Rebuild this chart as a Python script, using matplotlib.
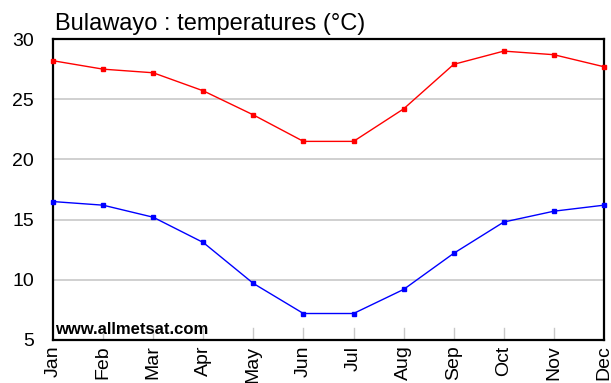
import matplotlib
matplotlib.use("Agg")
import matplotlib.pyplot as plt

plt.rcParams['font.family'] = ['Liberation Sans', 'DejaVu Sans']

months = ['Jan', 'Feb', 'Mar', 'Apr', 'May', 'Jun', 'Jul', 'Aug', 'Sep', 'Oct', 'Nov', 'Dec']
t_max = [28.2, 27.5, 27.2, 25.7, 23.7, 21.5, 21.5, 24.2, 27.9, 29.0, 28.7, 27.7]
t_min = [16.5, 16.2, 15.2, 13.1, 9.7, 7.2, 7.2, 9.2, 12.2, 14.8, 15.7, 16.2]
y_ticks = [5, 10, 15, 20, 25, 30]

fig = plt.figure(figsize=(6.11, 3.83), dpi=100)
ax = fig.add_axes([0.0867, 0.1123, 0.9018, 0.7857])

x = list(range(len(months)))
ax.plot(x, t_max, color='#ff0000', lw=1, marker='s', ms=3.5, zorder=3, clip_on=False)
ax.plot(x, t_min, color='#0000ff', lw=1, marker='s', ms=3.5, zorder=3, clip_on=False)

ax.set_xlim(0, 11)
ax.set_ylim(5, 30)
ax.set_yticks(y_ticks)
ax.set_yticklabels([str(v) for v in y_ticks], fontsize=14)
ax.set_xticks(x)
ax.set_xticklabels(months, rotation=90, fontsize=14)
ax.tick_params(axis='y', length=0, pad=13.5)
ax.tick_params(axis='x', length=0, pad=4)

# light grid lines and short month ticks
for v in [10, 15, 20, 25]:
    ax.axhline(v, color='#c8c8c8', lw=1.2, zorder=1)
for i in x[1:-1]:
    ax.plot([i, i], [5, 6.0], color='#c8c8c8', lw=1, zorder=1)

for s in ax.spines.values():
    s.set_linewidth(1.6)
    s.set_color('black')

ax.text(0.003, 0.01, 'www.allmetsat.com', transform=ax.transAxes, fontsize=12,
        fontweight='bold', va='bottom', ha='left', zorder=4)
fig.text(0.09, 0.9217, 'Bulawayo : temperatures (°C)', fontsize=17, ha='left', va='baseline')

fig.savefig('out.png', dpi=100)
